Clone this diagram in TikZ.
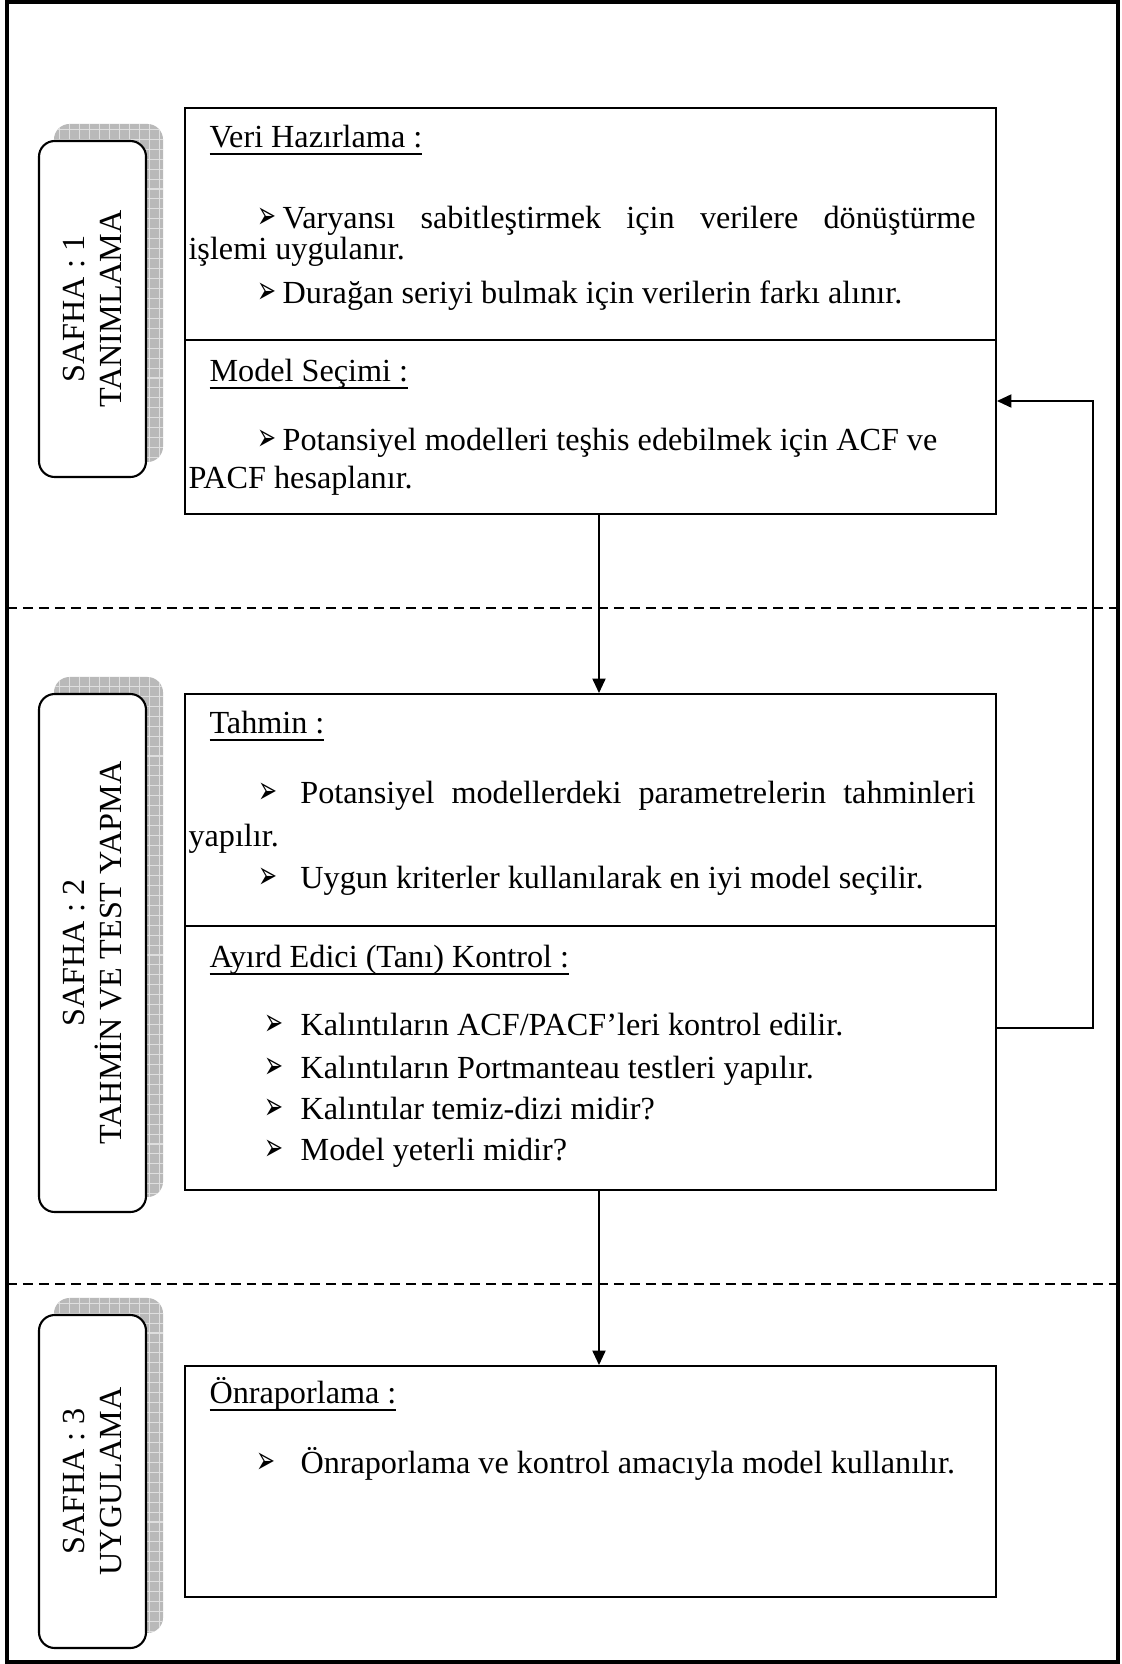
\documentclass[tikz,border=0pt]{standalone}
\usepackage{fontspec}
\usepackage{graphicx}
\setmainfont{Liberation Serif}
\newfontfamily\dingfont{DejaVu Sans}
\usetikzlibrary{arrows.meta, positioning, fit, calc, backgrounds}
\newlength{\ulwd}
\newcommand{\uln}[1]{\settowidth{\ulwd}{#1}\rlap{\rule[-3pt]{\ulwd}{0.7pt}}#1}
\newcommand{\blt}[1][9.6pt]{\makebox[#1][l]{\scalebox{0.62}[1.05]{\dingfont\fontsize{14}{14}\selectfont ➢}}}
\tikzset{
    panel/.style={draw, line width=0.75pt, inner sep=0pt},
    stage/.style={draw, fill=white, rounded corners=6pt, line width=0.8pt, inner sep=0pt},
    stageshade/.style={fill=gray!55, draw=none, rounded corners=6pt,
        path picture={\draw[gray!25, line width=0.4pt, step=3.8pt] (path picture bounding box.south west) grid (path picture bounding box.north east);}},
    stagelbl/.style={rotate=90, align=center, inner sep=0pt},
    hd/.style={anchor=base west, inner sep=0pt},
    item/.style={anchor=base west, inner sep=0pt},
    sep/.style={dash pattern=on 3.8pt off 2.3pt, line width=0.6pt},
    link/.style={-{Triangle[length=5.5pt, width=5pt]}, line width=0.6pt}
}
\begin{document}
\begin{tikzpicture}[x=0.382pt, y=-0.382pt, every node/.style={font=\fontsize{12.3}{14}\selectfont}]
  \useasboundingbox (0,0) rectangle (1121,1664);
  \draw[line width=1.2pt] (7,2) rectangle (1118,1662);
  \draw[sep] (7,608) -- (1118,608);
  \draw[sep] (7,1284) -- (1118,1284);
  % phases
  \node[stage, fit={(39,141) (146,477)}] (safha1) {};
  \node[stage, fit={(39,694) (146,1212)}] (safha2) {};
  \node[stage, fit={(39,1315) (146,1648)}] (safha3) {};
  \node[stagelbl] (lbl1) at (safha1) {SAFHA : 1\\TANIMLAMA};
  \node[stagelbl] (lbl2) at (safha2) {SAFHA : 2\\TAHMİN VE TEST YAPMA};
  \node[stagelbl] (lbl3) at (safha3) {SAFHA : 3\\UYGULAMA};
  \begin{scope}[on background layer]
    \foreach \s in {safha1, safha2, safha3}
      \path[stageshade] ($(\s.south west)+(16,-16)$) rectangle ($(\s.north east)+(16,-16)$);
  \end{scope}
  % boxes
  \node[panel, fit={(185,108) (996,340)}] (veri) {};
  \node[panel, fit={(185,340) (996,514)}] (secim) {};
  \node[panel, fit={(185,694) (996,926)}] (tahmin) {};
  \node[panel, fit={(185,926) (996,1190)}] (kontrol) {};
  \node[panel, fit={(185,1366) (996,1597)}] (onrap) {};
  % texts
  \node[hd] (veriHd) at (209,147) {\uln{Veri Hazırlama :}};
  \node[item] (veri1) at (257,228) {\blt\makebox[264.7pt][s]{Varyansı sabitleştirmek için verilere dönüştürme}};
  \node[item] (veri1b) at (188,259) {işlemi uygulanır.};
  \node[item] (veri2) at (257,303) {\blt Durağan seriyi bulmak için verilerin farkı alınır.};
  \node[hd] (secimHd) at (209,381) {\uln{Model Seçimi :}};
  \node[item] (secim1) at (257,450) {\blt Potansiyel modelleri teşhis edebilmek için ACF ve};
  \node[item] (secim1b) at (188,488) {PACF hesaplanır.};
  \node[hd] (tahminHd) at (209,733) {\uln{Tahmin :}};
  \node[item] (tahmin1) at (258,803) {\blt[16pt]\makebox[257.9pt][s]{Potansiyel modellerdeki parametrelerin tahminleri}};
  \node[item] (tahmin1b) at (188,846) {yapılır.};
  \node[item] (tahmin2) at (258,888) {\blt[16pt]Uygun kriterler kullanılarak en iyi model seçilir.};
  \node[hd] (kontrolHd) at (209,967) {\uln{Ayırd Edici (Tanı) Kontrol :}};
  \node[item] (kontrol1) at (264,1035) {\blt[13.8pt]Kalıntıların ACF/PACF’leri kontrol edilir.};
  \node[item] (kontrol2) at (264,1078) {\blt[13.8pt]Kalıntıların Portmanteau testleri yapılır.};
  \node[item] (kontrol3) at (264,1119) {\blt[13.8pt]Kalıntılar temiz-dizi midir?};
  \node[item] (kontrol4) at (264,1160) {\blt[13.8pt]Model yeterli midir?};
  \node[hd] (onrapHd) at (209,1403) {\uln{Önraporlama :}};
  \node[item] (onrap1) at (256,1473) {\blt[16.8pt]Önraporlama ve kontrol amacıyla model kullanılır.};
  % arrows
  \coordinate (fbtop) at (1093,401);
  \coordinate (fbbot) at (1093,1028);
  \draw[link] ($(secim.south)+(8.5,0)$) -- ($(tahmin.north)+(8.5,0)$);
  \draw[link] ($(kontrol.south)+(8.5,0)$) -- ($(onrap.north)+(8.5,0)$);
  \draw[link] (kontrol.east |- fbbot) -- (fbbot) -- (fbtop) -- (secim.east |- fbtop);
\end{tikzpicture}
\end{document}
